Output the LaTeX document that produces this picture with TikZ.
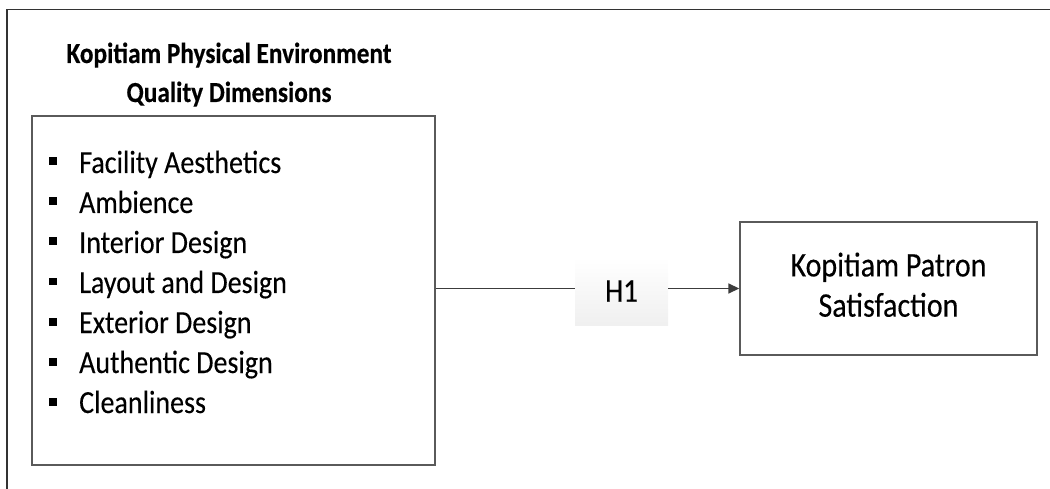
\documentclass[tikz,border=0pt]{standalone}
\usepackage{fontspec}
\usepackage{graphicx}
\setmainfont{Carlito}
\newfontfamily\heavyfont{Carlito}[FakeBold=0.25]
\newfontfamily\titlefont{Carlito Bold}[FakeBold=0.4]
\usetikzlibrary{arrows.meta}
\definecolor{boxline}{HTML}{5A5A5A}
\definecolor{conline}{HTML}{3C3C3C}
\newcommand{\vst}[1]{\scalebox{1}[1.15]{#1}}
\tikzset{
  framebox/.style={draw=boxline, line width=1.4pt, fill=white, inner sep=0pt},
  titletext/.style={anchor=base, inner sep=0pt, font=\titlefont\fontsize{25.3}{30}\selectfont},
  itemtext/.style={anchor=base west, inner sep=0pt, font=\heavyfont\fontsize{28}{34}\selectfont},
  hbox/.style={inner sep=0pt, minimum width=93pt, minimum height=68pt, top color=white, bottom color=black!6, font=\heavyfont\fontsize{29}{34}\selectfont},
  conn/.style={draw=conline, line width=1.7pt},
}
\newcommand{\sqbullet}{\llap{\rule[7.5pt]{8pt}{8pt}\hspace{22pt}}}
\begin{document}
\begin{tikzpicture}[x=1pt,y=-1pt]
\useasboundingbox (0,0) rectangle (1050,489);
% partial outer frame
\draw[draw=black!80, line width=1.5pt] (7,489) -- (7,9.5) -- (1050,9.5);
% title
\node[titletext] (title1) at (229,63) {\vst{Kopitiam Physical Environment}};
\node[titletext] (title2) at (229,102) {\vst{Quality Dimensions}};
% left box
\node[framebox, minimum width=403pt, minimum height=349pt] (left) at (233.5,290.5) {};
\foreach \t [count=\i from 0] in {Facility Aesthetics, Ambience, Interior Design, Layout and Design, Exterior Design, Authentic Design, Cleanliness}{
  \node[itemtext] (item\i) at (79,{173+40*\i}) {\sqbullet\vst{\t}};
}
% right box
\node[framebox, minimum width=297pt, minimum height=133pt, font=\heavyfont\fontsize{30}{35}\selectfont] (right) at (888.5,288.5) {\raisebox{-3pt}{\vst{\begin{tabular}{@{}c@{}}Kopitiam Patron\\Satisfaction\end{tabular}}}};
% hypothesis
\node[hbox] (h1) at (621.5,291) {\vst{H1}};
\draw[conn] (left.east |- 0,288.5) coordinate (l1) -- (l1 -| h1.west);
\draw[conn, -{Triangle[length=11pt,width=10pt]}] (h1.east |- l1) -- (l1 -| right.west);
\end{tikzpicture}
\end{document}
